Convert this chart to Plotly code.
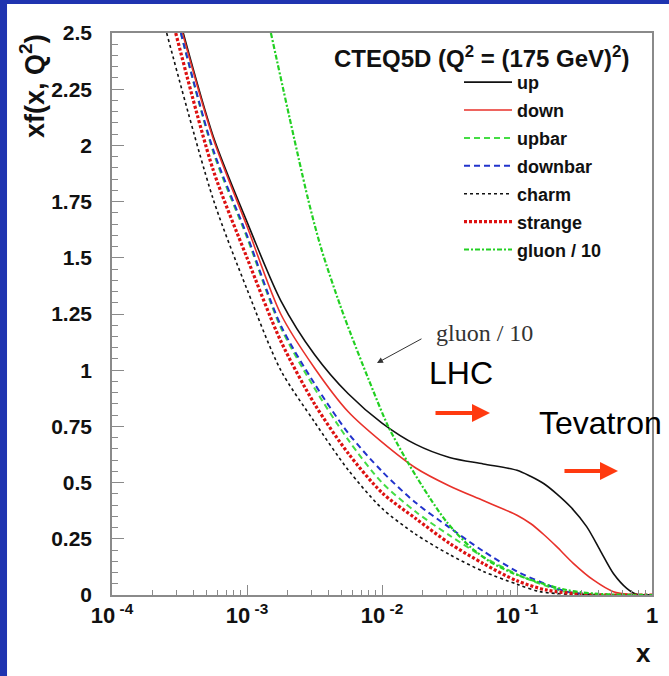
import plotly.graph_objects as go

# ---- data (log10(x) positions and xf(x,Q^2) values) ----
up_log10x = [-3.472, -3.25, -3.0, -2.75, -2.5, -2.25, -2.0, -1.75, -1.5, -1.25, -1.0, -0.9, -0.8, -0.706, -0.6, -0.484, -0.385, -0.286, -0.187, -0.113, 0.0]
up_y      = [2.5, 2.04, 1.66, 1.31, 1.07, 0.895, 0.765, 0.67, 0.612, 0.583, 0.555, 0.528, 0.495, 0.45, 0.39, 0.304, 0.2, 0.096, 0.03, 0.003, 0.0]

down_log10x = [-3.478, -3.25, -3.0, -2.75, -2.5, -2.25, -2.0, -1.75, -1.5, -1.25, -1.0, -0.9, -0.8, -0.706, -0.583, -0.435, -0.286, -0.15, 0.0]
down_y      = [2.5, 2.03, 1.64, 1.25, 1.01, 0.815, 0.68, 0.565, 0.485, 0.42, 0.355, 0.318, 0.268, 0.215, 0.141, 0.067, 0.015, 0.002, 0.0]

upbar_log10x = [-3.49, -3.25, -3.0, -2.75, -2.5, -2.25, -2.0, -1.75, -1.5, -1.25, -1.0, -0.83, -0.632, -0.4, 0.0]
upbar_y      = [2.5, 1.97, 1.59, 1.19, 0.92, 0.69, 0.50, 0.37, 0.265, 0.17, 0.092, 0.05, 0.013, 0.001, 0.0]

downbar_log10x = [-3.49, -3.25, -3.0, -2.75, -2.5, -2.25, -2.0, -1.75, -1.5, -1.25, -1.0, -0.83, -0.632, -0.4, 0.0]
downbar_y      = [2.5, 1.98, 1.60, 1.20, 0.94, 0.72, 0.55, 0.41, 0.30, 0.195, 0.105, 0.059, 0.015, 0.001, 0.0]

charm_log10x = [-3.595, -3.25, -3.0, -2.75, -2.5, -2.25, -2.0, -1.75, -1.5, -1.25, -1.0, -0.83, -0.6, 0.0]
charm_y      = [2.5, 1.76, 1.36, 1.0, 0.77, 0.556, 0.385, 0.27, 0.18, 0.105, 0.048, 0.015, 0.003, 0.0]

strange_log10x = [-3.528, -3.25, -3.0, -2.75, -2.5, -2.25, -2.0, -1.75, -1.5, -1.25, -1.0, -0.78, -0.5, 0.0]
strange_y      = [2.5, 1.89, 1.50, 1.13, 0.85, 0.63, 0.455, 0.34, 0.23, 0.14, 0.063, 0.022, 0.003, 0.0]

gluon_log10x = [-2.823, -2.546, -2.447, -2.311, -2.237, -2.1, -1.953, -1.805, -1.644, -1.521, -1.348, -1.2, -1.027, -0.854, -0.632, -0.4, 0.0]
gluon_y      = [2.5, 1.757, 1.535, 1.29, 1.17, 0.96, 0.749, 0.586, 0.43, 0.325, 0.215, 0.148, 0.096, 0.059, 0.022, 0.005, 0.0]

x_tick_vals = [1e-4, 1e-3, 1e-2, 1e-1, 1]
x_tick_text = ["10<sup> -4</sup>", "10<sup> -3</sup>", "10<sup> -2</sup>", "10<sup> -1</sup>", "1"]
x_minor_vals = [m * 10.0 ** e for e in (-4, -3, -2, -1) for m in range(2, 10)]
y_tick_vals = [0, 0.25, 0.5, 0.75, 1, 1.25, 1.5, 1.75, 2, 2.25, 2.5]
y_tick_text = ["0", "0.25", "0.5", "0.75", "1", "1.25", "1.5", "1.75", "2", "2.25", "2.5"]

series = [
    ("up", up_log10x, up_y, "#111111", 1.6, "solid"),
    ("down", down_log10x, down_y, "#e8312a", 1.6, "solid"),
    ("upbar", upbar_log10x, upbar_y, "#44dd44", 2.0, "6px,4px"),
    ("downbar", downbar_log10x, downbar_y, "#2233cc", 2.0, "6px,4px"),
    ("charm", charm_log10x, charm_y, "#111111", 1.6, "3px,3px"),
    ("strange", strange_log10x, strange_y, "#dd1111", 3.2, "3px,2px"),
    ("gluon / 10", gluon_log10x, gluon_y, "#22d022", 2.2, "5px,2px,2px,2px"),
]

FONT = "Liberation Sans, Arial, Helvetica, sans-serif"

fig = go.Figure()
for name, lx, yv, color, width, dash in series:
    fig.add_trace(go.Scatter(
        x=[10 ** v for v in lx], y=yv, mode="lines", name=name,
        legendgroup=name,
        line=dict(color=color, width=width, dash=dash, shape="spline", smoothing=0.8),
    ))

axis_line = "#8a8a8a"
fig.update_xaxes(
    type="log", range=[-4, 0],
    tickmode="array", tickvals=x_tick_vals, ticktext=x_tick_text,
    ticks="inside", ticklen=10, tickwidth=1, tickcolor=axis_line,
    minor=dict(tickmode="array", tickvals=x_minor_vals, ticks="inside", ticklen=5, tickcolor=axis_line, showgrid=False),
    showgrid=False, zeroline=False,
    showline=True, linecolor=axis_line, linewidth=1.5, mirror=True,
    tickfont=dict(family=FONT, size=22, color="#111", weight="bold"),
)
fig.update_yaxes(
    range=[0, 2.5],
    tickmode="array", tickvals=y_tick_vals, ticktext=y_tick_text,
    ticks="inside", ticklen=12, tickwidth=1, tickcolor=axis_line,
    minor=dict(dtick=0.05, ticks="inside", ticklen=6, tickcolor=axis_line, showgrid=False),
    showgrid=False, zeroline=False,
    showline=True, linecolor=axis_line, linewidth=1.5, mirror=True,
    tickfont=dict(family=FONT, size=21, color="#111", weight="bold"),
    ticklabelstandoff=14,
)

C = dict(xanchor="center", yanchor="middle")
annotations = [
    dict(xref="paper", yref="paper", x=0.685, y=0.957, showarrow=False,
         text="CTEQ5D (Q<sup>2</sup> = (175 GeV)<sup>2</sup>)",
         font=dict(family=FONT, size=24, color="#111", weight="bold"), **C),
    dict(xref="paper", yref="paper", x=0.689, y=0.466, showarrow=False,
         text="gluon / 10", font=dict(family="Liberation Serif, Times New Roman, serif", size=24, color="#333"), **C),
    dict(xref="paper", yref="paper", x=0.4907, y=0.4128, text="", showarrow=True,
         ax=46, ay=-25, arrowhead=2, arrowsize=1.2, arrowwidth=1, arrowcolor="#333"),
    dict(xref="paper", yref="paper", x=0.646, y=0.395, showarrow=False,
         text="LHC", font=dict(family=FONT, size=32, color="#000"), **C),
    dict(xref="paper", yref="paper", x=0.70, y=0.324, text="", showarrow=True,
         ax=-56, ay=0, arrowhead=2, arrowsize=0.9, arrowwidth=4, arrowcolor="#ff3a10"),
    dict(xref="paper", yref="paper", x=0.904, y=0.306, showarrow=False,
         text="Tevatron", font=dict(family=FONT, size=32, color="#000"), **C),
    dict(xref="paper", yref="paper", x=0.937, y=0.2206, text="", showarrow=True,
         ax=-55, ay=0, arrowhead=2, arrowsize=0.9, arrowwidth=4, arrowcolor="#ff3a10"),
    dict(xref="paper", yref="paper", x=0.985, y=-0.103, showarrow=False,
         text="x", font=dict(family=FONT, size=26, color="#111", weight="bold"), **C),
    dict(xref="paper", yref="paper", x=-0.148, y=0.906, showarrow=False, textangle=-90,
         text="xf(x, Q<sup>2</sup>)", font=dict(family=FONT, size=27, color="#111", weight="bold"), **C),
]

fig.update_layout(
    width=669, height=676, autosize=False,
    margin=dict(l=112, r=17, t=33, b=81),
    paper_bgcolor="#1f34b0",
    plot_bgcolor="rgba(0,0,0,0)",
    showlegend=True,
    legend=dict(
        x=0.6426, y=0.945, xanchor="left", yanchor="top",
        bgcolor="rgba(0,0,0,0)", borderwidth=0,
        font=dict(family=FONT, size=18, color="#111", weight="bold"),
        tracegroupgap=1.5, itemwidth=48,
    ),
    annotations=annotations,
    shapes=[dict(type="rect", xref="paper", yref="paper", layer="below",
                 x0=-0.1944, x1=1.05, y0=-0.2, y1=1.0516,
                 fillcolor="white", line=dict(width=0))],
)

fig.write_html(
    "out.html",
    config={"displayModeBar": False},
    post_script="document.body.style.margin='0px';document.body.style.overflow='hidden';",
)
